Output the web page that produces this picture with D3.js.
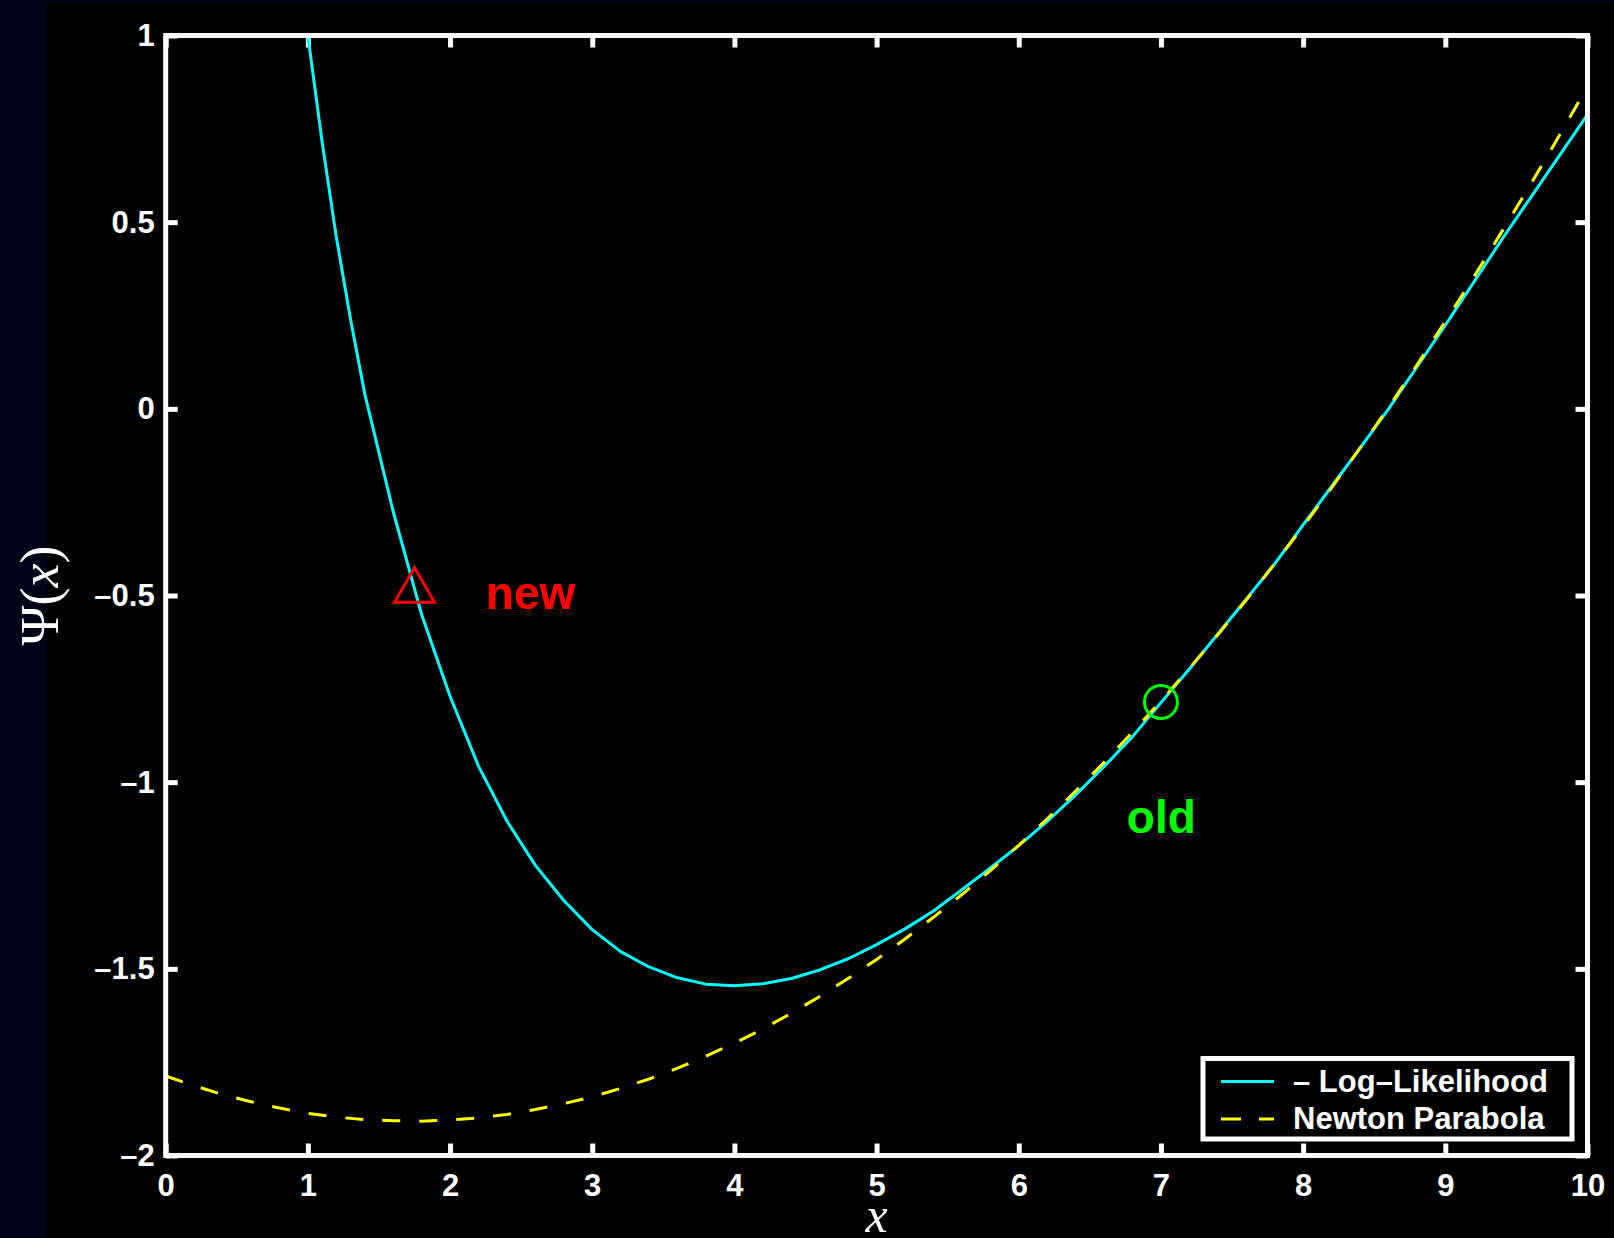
<!DOCTYPE html>
<html>
<head>
<meta charset="utf-8">
<script src="https://cdn.jsdelivr.net/npm/d3@7"></script>
<style>
  html, body { margin: 0; padding: 0; background: #000318; }
  svg { display: block; }
</style>
</head>
<body>
<svg id="chart" width="1614" height="1238"></svg>
<script>
// ---------- data ----------
const xTicks = [0, 1, 2, 3, 4, 5, 6, 7, 8, 9, 10];
const xTickLabels = ["0", "1", "2", "3", "4", "5", "6", "7", "8", "9", "10"];
const yTicks = [-2, -1.5, -1, -0.5, 0, 0.5, 1];
const yTickLabels = ["–2", "–1.5", "–1", "–0.5", "0", "0.5", "1"];

// – Log-Likelihood (cyan)
const llX = [1.0, 1.1, 1.2, 1.3, 1.4, 1.6, 1.8, 2.0, 2.2, 2.4, 2.6, 2.8, 3.0, 3.2, 3.4, 3.6, 3.8, 4.0,
             4.2, 4.4, 4.6, 4.8, 5.0, 5.2, 5.4, 5.6, 5.8, 6.0, 6.2, 6.4, 6.6, 6.8, 7.0,
             7.2, 7.4, 7.6, 7.8, 8.0, 8.2, 8.4, 8.6, 8.8, 9.0, 9.2, 9.4, 9.6, 9.8, 10.0];
const llY = [1.00, 0.715, 0.46, 0.24, 0.04, -0.275, -0.551, -0.770, -0.957, -1.104, -1.223, -1.317, -1.395,
             -1.454, -1.495, -1.524, -1.541, -1.545, -1.540, -1.526, -1.503, -1.473, -1.435,
             -1.393, -1.345, -1.288, -1.230, -1.170, -1.105, -1.034, -0.958, -0.878, -0.787,
             -0.697, -0.603, -0.510, -0.415, -0.311, -0.208, -0.105, -0.001, 0.112, 0.224,
             0.339, 0.455, 0.566, 0.677, 0.788];

// Newton Parabola (yellow, dashed)
const npX = [0.0, 0.2, 0.4, 0.6, 0.8, 1.0, 1.2, 1.4, 1.6, 1.8, 2.0, 2.2, 2.4, 2.6, 2.8, 3.0,
             3.2, 3.4, 3.6, 3.8, 4.0, 4.2, 4.4, 4.6, 4.8, 5.0, 5.2, 5.4, 5.6, 5.8, 6.0,
             6.2, 6.4, 6.6, 6.8, 7.0, 7.2, 7.4, 7.6, 7.8, 8.0, 8.2, 8.4, 8.6, 8.8, 9.0,
             9.2, 9.4, 9.6, 9.8, 10.0];
const npY = [-1.787, -1.813, -1.837, -1.856, -1.873, -1.887, -1.897, -1.904, -1.907, -1.908,
             -1.905, -1.899, -1.890, -1.877, -1.861, -1.843, -1.820, -1.795, -1.766, -1.734,
             -1.699, -1.661, -1.619, -1.574, -1.526, -1.475, -1.420, -1.362, -1.301, -1.237,
             -1.169, -1.098, -1.024, -0.947, -0.866, -0.783, -0.695, -0.605, -0.512, -0.415,
             -0.315, -0.212, -0.105, 0.004, 0.117, 0.234, 0.353, 0.476, 0.601, 0.731, 0.863];

// markers and annotations
const newPoint = { x: 1.75, y: -0.487 };
const oldPoint = { x: 7.0, y: -0.785 };
const annotations = [
  { text: "new", x: 2.25, y: -0.5, color: "#ff0000" },
  { text: "old", x: 6.76, y: -1.1, color: "#00ff00" }
];
const legendItems = [
  { label: "– Log–Likelihood", color: "#00ffff", dash: null },
  { label: "Newton Parabola", color: "#ffff00", dash: "20,18" }
];

// ---------- layout ----------
const W = 1614, H = 1238;
const plot = { left: 165.7, right: 1587.5, top: 35.5, bottom: 1155.5 };
const svg = d3.select("#chart");

svg.append("rect").attr("x", 0).attr("y", 0).attr("width", W).attr("height", H).attr("fill", "#000318");
svg.append("rect").attr("x", 47).attr("y", 3).attr("width", W - 47).attr("height", H - 3).attr("fill", "#000000");

const x = d3.scaleLinear().domain([0, 10]).range([plot.left, plot.right]);
const y = d3.scaleLinear().domain([-2, 1]).range([plot.bottom, plot.top]);

svg.append("clipPath").attr("id", "clip")
  .append("rect").attr("x", plot.left).attr("y", plot.top)
  .attr("width", plot.right - plot.left).attr("height", plot.bottom - plot.top);

const tickFont = "'Liberation Sans', Arial, Helvetica, sans-serif";

// axes (ticks inward, all four sides)
const bottomAxis = d3.axisBottom(x).tickValues(xTicks)
  .tickFormat((d, i) => xTickLabels[i]).tickSizeInner(-12).tickSizeOuter(0).tickPadding(18);
const leftAxis = d3.axisLeft(y).tickValues(yTicks)
  .tickFormat((d, i) => yTickLabels[i]).tickSizeInner(-12).tickSizeOuter(0).tickPadding(11);
const topAxis = d3.axisTop(x).tickValues(xTicks).tickFormat("").tickSizeInner(-12).tickSizeOuter(0);
const rightAxis = d3.axisRight(y).tickValues(yTicks).tickFormat("").tickSizeInner(-12).tickSizeOuter(0);

function styleAxis(g) {
  g.select(".domain").remove();
  g.selectAll(".tick line").attr("stroke", "#ffffff").attr("stroke-width", 5);
  g.selectAll(".tick text").attr("fill", "#ffffff")
    .style("font-family", tickFont).style("font-weight", "bold").style("font-size", "31px");
}
svg.append("g").attr("transform", `translate(0,${plot.bottom})`).call(bottomAxis).call(styleAxis);
svg.append("g").attr("transform", `translate(${plot.left},0)`).call(leftAxis).call(styleAxis);
svg.append("g").attr("transform", `translate(0,${plot.top})`).call(topAxis).call(styleAxis);
svg.append("g").attr("transform", `translate(${plot.right},0)`).call(rightAxis).call(styleAxis);
svg.selectAll(".tick text").attr("font-family", null);

// lines
const line = d3.line().x(d => x(d[0])).y(d => y(d[1]));
const llData = llX.map((v, i) => [v, llY[i]]);
const npData = npX.map((v, i) => [v, npY[i]]);

const lines = svg.append("g").attr("clip-path", "url(#clip)");
lines.append("path").datum(llData).attr("d", line)
  .attr("fill", "none").attr("stroke", "#00ffff").attr("stroke-width", 3).attr("stroke-linejoin", "round");
lines.append("path").datum(npData).attr("d", line)
  .attr("fill", "none").attr("stroke", "#ffff00").attr("stroke-width", 3).attr("stroke-dasharray", "18,19");

// box
svg.append("rect").attr("x", plot.left).attr("y", plot.top)
  .attr("width", plot.right - plot.left).attr("height", plot.bottom - plot.top)
  .attr("fill", "none").attr("stroke", "#ffffff").attr("stroke-width", 5);

// markers
svg.append("path")
  .attr("d", d3.symbol(d3.symbolTriangle, 693)())
  .attr("transform", `translate(${x(newPoint.x)},${y(newPoint.y)})`)
  .attr("fill", "none").attr("stroke", "#ff0000").attr("stroke-width", 3);
svg.append("circle").attr("cx", x(oldPoint.x)).attr("cy", y(oldPoint.y)).attr("r", 16.5)
  .attr("fill", "none").attr("stroke", "#00ff00").attr("stroke-width", 3);

// annotations
svg.selectAll("text.annot").data(annotations).enter().append("text")
  .attr("class", "annot")
  .attr("x", d => x(d.x)).attr("y", d => y(d.y) + 13.5)
  .attr("fill", d => d.color)
  .style("font-family", tickFont).style("font-weight", "bold").style("font-size", "46px")
  .text(d => d.text);

// axis labels
const serif = "'Liberation Serif', 'Times New Roman', 'DejaVu Serif', serif";
const xl = svg.append("text").attr("x", (plot.left + plot.right) / 2).attr("y", 1232)
  .attr("text-anchor", "middle").attr("fill", "#ffffff")
  .style("font-family", serif).style("font-size", "50px");
xl.append("tspan").style("font-style", "italic").text("x");

const yl = svg.append("text")
  .attr("transform", `translate(58,${(plot.top + plot.bottom) / 2}) rotate(-90)`)
  .attr("text-anchor", "middle").attr("fill", "#ffffff")
  .style("font-family", serif).style("font-size", "54px");
yl.append("tspan").text("Ψ(");
yl.append("tspan").style("font-style", "italic").text("x");
yl.append("tspan").text(")");

// legend
const lg = { x: 1203, y: 1058.5, w: 369, h: 80.5 };
svg.append("rect").attr("x", lg.x).attr("y", lg.y).attr("width", lg.w).attr("height", lg.h)
  .attr("fill", "#000000").attr("stroke", "#ffffff").attr("stroke-width", 5);
const rowY = [1081.5, 1119];
const rowBase = [1092, 1129];
legendItems.forEach((it, i) => {
  svg.append("line").attr("x1", 1221).attr("x2", 1274).attr("y1", rowY[i]).attr("y2", rowY[i])
    .attr("stroke", it.color).attr("stroke-width", 3)
    .attr("stroke-dasharray", it.dash);
  svg.append("text").attr("x", 1293).attr("y", rowBase[i]).attr("fill", "#ffffff")
    .style("font-family", tickFont).style("font-weight", "bold").style("font-size", "31px")
    .text(it.label);
});
</script>
</body>
</html>
